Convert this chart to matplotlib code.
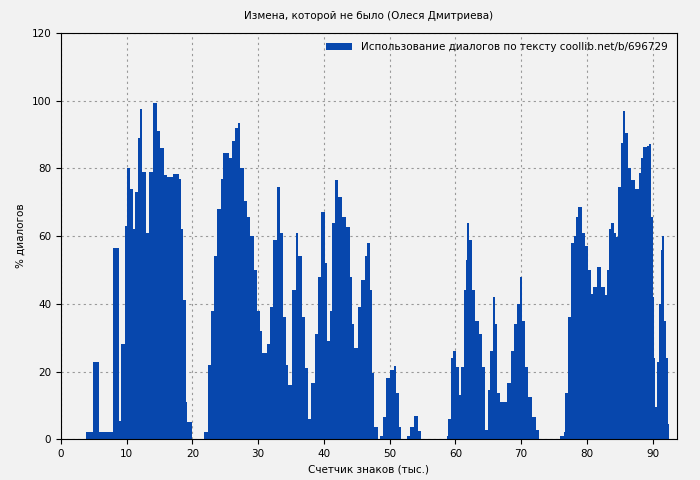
import matplotlib
matplotlib.use('Agg')
import matplotlib.pyplot as plt

# x in thousand characters, y in % dialogue
xs = [0, 3.7, 3.8, 4.9, 5.8, 7.9, 8.8, 9.2, 9.7, 10.1, 10.5, 10.9, 11.3, 11.7, 12.0, 12.3, 12.9, 13.4,
      14.0, 14.6, 15.1, 15.7, 16.2, 17.0, 17.9, 18.3, 18.6, 19.0, 19.2, 19.9, 21.7,
      21.8, 22.3, 22.8, 23.3, 23.8, 24.3, 24.7, 25.6, 26.1, 26.5, 26.9, 27.3, 27.8, 28.3, 28.8,
      29.3, 29.8, 30.3, 30.6, 31.3, 31.8, 32.3, 32.8, 33.3, 33.8, 34.3, 34.6, 35.1, 35.7, 36.1,
      36.6, 37.1, 37.6, 38.1, 38.6, 39.1, 39.6, 40.1, 40.5, 40.9, 41.3, 41.7, 42.2, 42.7, 43.4,
      43.9, 44.3, 44.6, 45.2, 45.7, 46.2, 46.6, 47.0, 47.3, 47.7, 48.2, 48.5,
      48.6, 49.0, 49.5, 50.0, 50.6, 51.0, 51.5, 51.8, 52.5,
      52.6, 53.1, 53.7, 54.3, 54.8, 58.6,
      58.7, 58.9, 59.4, 59.7, 60.1, 60.5, 60.9, 61.3, 61.6, 61.8, 62.1, 62.5, 63.0, 63.6, 64.1,
      64.5, 64.9, 65.2, 65.7, 66.1, 66.4, 66.8, 67.5, 67.9, 68.4, 68.9, 69.4, 69.8, 70.2, 70.6,
      71.1, 71.7, 72.2, 72.7, 75.8,
      75.9, 76.5, 76.7, 77.2, 77.6, 78.0, 78.3, 78.6, 79.2, 79.7, 80.2, 80.6, 81.0, 81.6, 82.2,
      82.7, 83.0, 83.3, 83.6, 84.2, 84.5, 84.8, 85.2, 85.5, 85.8, 86.2, 86.7, 87.4, 87.9, 88.2,
      88.5, 89.1, 89.5, 89.7, 90.0, 90.2, 90.4, 90.6, 91.0, 91.3, 91.5, 91.7, 92.0, 92.3, 92.5, 93.7]
ys = [0, 0, 2, 22.8, 2, 56.5, 5.5, 28, 63, 80, 74, 62, 73, 89, 97.5, 79, 61, 79,
      99.3, 91, 86, 78, 77.5, 78.5, 77, 62, 41, 11, 5, 0, 0,
      2, 22, 38, 54, 68, 77, 84.5, 83, 88, 92, 93.5, 80, 70.5, 65.7, 60,
      50, 38, 32, 25.4, 28, 39, 59, 74.5, 61, 36, 22, 16, 44, 61, 54,
      36, 21, 6, 16.5, 31, 48, 67, 52, 29, 38, 64, 76.5, 71.5, 65.7, 62.7,
      48, 34, 27, 39, 47, 54, 58, 44, 19.5, 3.5, 0, 0,
      1, 6.5, 18, 20.4, 21.6, 13.6, 3.6, 0, 0,
      1, 3.6, 7, 2.5, 0, 0,
      1, 6, 24, 26, 21.4, 13, 21.4, 44, 53, 64, 59, 44, 35, 31, 21.4,
      2.7, 14.5, 26, 42, 34, 13.6, 11, 11, 16.5, 26, 34, 40, 48, 35, 21.4,
      12.5, 6.5, 2.7, 0, 0,
      1, 2, 13.6, 36, 58, 60, 65.7, 68.6, 61, 57, 50, 43, 45, 51, 45,
      42.5, 50, 62, 63.8, 61, 59.7, 74.5, 87.5, 97, 90.5, 80, 76.5, 74, 78.6, 83,
      86.3, 86.6, 87.2, 65.7, 42, 24, 9.5, 22.8, 40, 56, 60, 35, 24, 4.5, 0, 0]

bg = '#f2f2f2'
fig = plt.figure(figsize=(7, 4.8), dpi=100, facecolor=bg)
ax = fig.add_axes([0.087, 0.085, 0.88, 0.846], facecolor=bg)
ax.fill_between(xs, ys, 0, step='post', color='#0747ad', lw=0,
                label='Использование диалогов по тексту coollib.net/b/696729')
ax.set_xlim(0, 93.7)
ax.set_ylim(0, 120)
ax.set_xticks(range(0, 91, 10))
ax.set_yticks(range(0, 121, 20))
ax.tick_params(labelsize=7.5)
ax.grid(True, linestyle=(0, (2, 3)), color='#999999', lw=0.8)
ax.set_axisbelow(True)
ax.set_title('Измена, которой не было (Олеся Дмитриева)', fontsize=7.5, pad=10)
ax.set_xlabel('Счетчик знаков (тыс.)', fontsize=7.5)
ax.set_ylabel('% диалогов', fontsize=7.5)
ax.legend(loc='upper right', frameon=False, fontsize=7.5, handlelength=2.5)
fig.savefig('out.png', dpi=100, facecolor=bg)
